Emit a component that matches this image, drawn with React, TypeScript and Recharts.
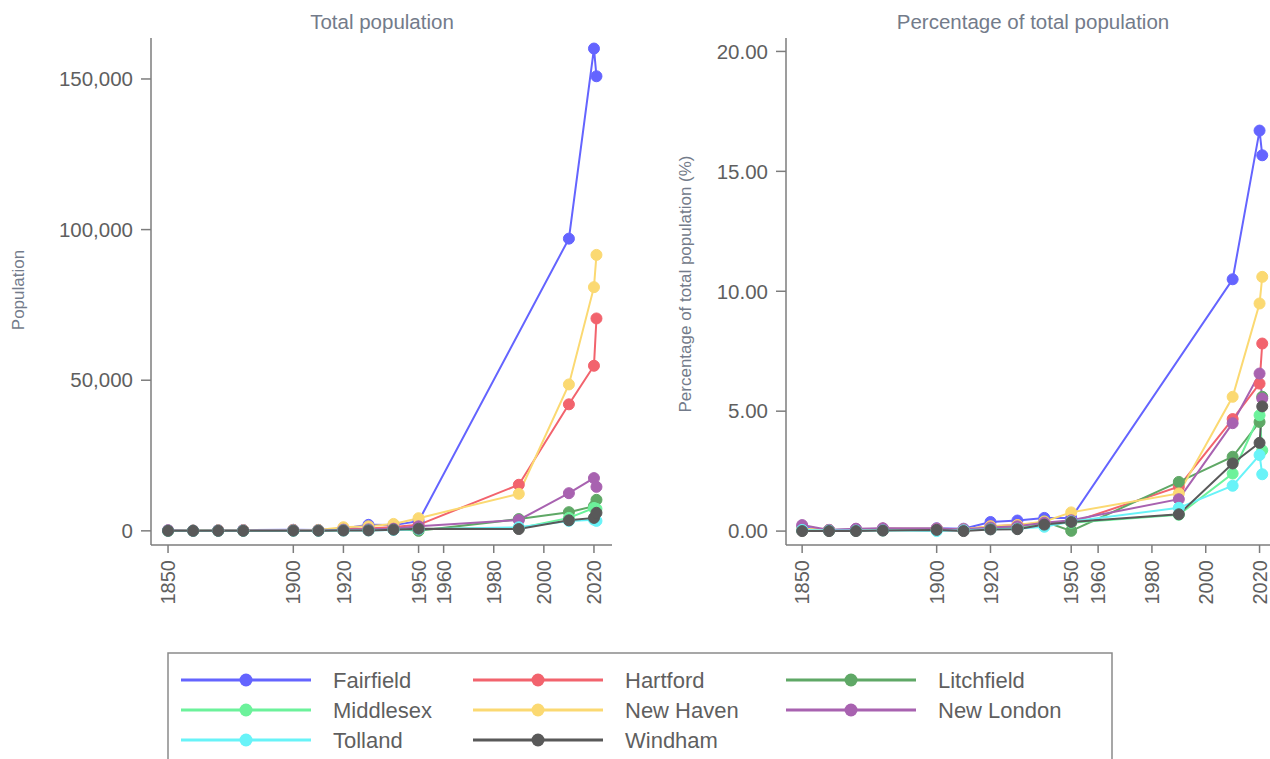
import React from 'react';
import { LineChart, Line, XAxis, YAxis } from 'recharts';

// ---------------------------------------------------------------------------
// Data
// ---------------------------------------------------------------------------
const years = [1850, 1860, 1870, 1880, 1900, 1910, 1920, 1930, 1940, 1950, 1990, 2010, 2020, 2021];

const counties = ['Fairfield', 'Hartford', 'Litchfield', 'Middlesex', 'New Haven', 'New London', 'Tolland', 'Windham'];

const countyColors = ['#6464ff', '#f2636d', '#5fa866', '#6cf29b', '#fbd972', '#a862b0', '#68f3f8', '#595959'];

// Total population per county
const popFairfield = [150, 100, 200, 250, 350, 300, 800, 2000, 1900, 3200, null, 97000, 160100, 150900];
const popHartford = [100, 80, 150, 200, 300, 250, 500, 800, 1300, 2000, 15300, 42000, 54800, 70500];
const popLitchfield = [50, 40, 80, 100, 200, 150, 300, 400, 700, 0, 3900, 6200, 8200, 10300];
const popMiddlesex = [30, 30, 40, 60, 100, 100, 200, 300, 500, 600, 900, 4300, 7600, 7300];
const popNewHaven = [100, 90, 150, 200, 300, 300, 1200, 1500, 2300, 4200, 12300, 48600, 80900, 91600];
const popNewLondon = [200, 50, 100, 150, 200, 150, 400, 500, 700, 1500, 3600, 12500, 17500, 14600];
const popTolland = [20, 20, 30, 40, 50, 50, 100, 150, 300, 500, 1200, 3300, 3700, 3300];
const popWindham = [0, 0, 0, 0, 50, 50, 100, 150, 400, 700, 600, 3500, 4300, 6000];

// Percentage of total population per county
const pctFairfield = [0.15, 0.05, 0.08, 0.1, 0.12, 0.1, 0.38, 0.44, 0.55, 0.55, null, 10.5, 16.7, 15.67];
const pctHartford = [0.1, 0.05, 0.06, 0.1, 0.1, 0.07, 0.2, 0.25, 0.35, 0.35, 1.85, 4.67, 6.15, 7.82];
const pctLitchfield = [0.05, 0.02, 0.04, 0.06, 0.08, 0.06, 0.15, 0.18, 0.4, 0.01, 2.05, 3.1, 4.55, 5.6];
const pctMiddlesex = [0.03, 0.02, 0.02, 0.03, 0.05, 0.05, 0.1, 0.12, 0.3, 0.35, 0.68, 2.4, 4.83, 3.37];
const pctNewHaven = [0.1, 0.05, 0.07, 0.1, 0.1, 0.08, 0.2, 0.25, 0.4, 0.78, 1.57, 5.6, 9.49, 10.6];
const pctNewLondon = [0.25, 0.05, 0.1, 0.12, 0.1, 0.08, 0.15, 0.2, 0.35, 0.45, 1.33, 4.5, 6.57, 5.53];
const pctTolland = [0.05, 0.02, 0.02, 0.03, 0.0, 0.03, 0.08, 0.1, 0.18, 0.4, 0.97, 1.89, 3.17, 2.37];
const pctWindham = [0.0, 0.0, 0.0, 0.02, 0.05, 0.0, 0.07, 0.08, 0.27, 0.38, 0.7, 2.82, 3.68, 5.2];

const yearTicks = [1850, 1900, 1920, 1950, 1960, 1980, 2000, 2020];
const popTicks = [0, 50000, 100000, 150000];
const pctTicks = [0, 5, 10, 15, 20];

const popSeries = [popFairfield, popHartford, popLitchfield, popMiddlesex, popNewHaven, popNewLondon, popTolland, popWindham];
const pctSeries = [pctFairfield, pctHartford, pctLitchfield, pctMiddlesex, pctNewHaven, pctNewLondon, pctTolland, pctWindham];

function buildRows(series: (number | null)[][]) {
  return years.map((year, i) => {
    const row: Record<string, number | null> = { year };
    counties.forEach((c, k) => {
      row[c] = series[k][i];
    });
    return row;
  });
}

const popData = buildRows(popSeries);
const pctData = buildRows(pctSeries);

// ---------------------------------------------------------------------------
// Styling
// ---------------------------------------------------------------------------
const FONT = '"Liberation Sans", Arial, Helvetica, sans-serif';
const AXIS_COLOR = '#7d7d7d';
const TICK_COLOR = '#5f5f5f';
const TITLE_COLOR = '#737b8a';

const YearTick = ({ x, y, payload }: any) => (
  <text
    x={x}
    y={y}
    transform={`rotate(-90 ${x} ${y})`}
    textAnchor="end"
    dy="0.36em"
    fontSize={20}
    fontFamily={FONT}
    fill={TICK_COLOR}
  >
    {payload.value}
  </text>
);

function Panel({
  data,
  left,
  width,
  margin,
  xDomain,
  yDomain,
  yTicks,
  yFormat,
}: {
  data: any[];
  left: number;
  width: number;
  margin: { top: number; right: number; bottom: number; left: number };
  xDomain: [number, number];
  yDomain: [number, number];
  yTicks: number[];
  yFormat: (v: number) => string;
}) {
  return (
    <div style={{ position: 'absolute', left, top: 0 }}>
      <LineChart width={width} height={620} data={data} margin={margin}>
        <XAxis
          dataKey="year"
          type="number"
          domain={xDomain}
          ticks={yearTicks}
          allowDataOverflow
          height={60}
          tickSize={8}
          tickMargin={7}
          stroke={AXIS_COLOR}
          strokeWidth={1.5}
          tick={<YearTick />}
          interval={0}
        />
        <YAxis
          type="number"
          domain={yDomain}
          ticks={yTicks}
          allowDataOverflow
          width={100}
          tickSize={10}
          tickMargin={8}
          stroke={AXIS_COLOR}
          strokeWidth={1.5}
          tickFormatter={yFormat}
          tick={{ fontSize: 20.5, fontFamily: FONT, fill: TICK_COLOR }}
          interval={0}
        />
        {counties.map((c, k) => (
          <Line
            key={c}
            type="linear"
            dataKey={c}
            stroke={countyColors[k]}
            strokeWidth={2}
            dot={{ r: 5.5, fill: countyColors[k], stroke: countyColors[k], strokeWidth: 1 }}
            connectNulls
            isAnimationActive={false}
          />
        ))}
      </LineChart>
    </div>
  );
}

const legendCols = [181, 473, 786];

function Overlay() {
  return (
    <svg
      width={1270}
      height={759}
      style={{ position: 'absolute', left: 0, top: 0, pointerEvents: 'none' }}
      fontFamily={FONT}
    >
      <text x={382} y={22} dy="0.35em" textAnchor="middle" fontSize={20.5} fill={TITLE_COLOR}>
        Total population
      </text>
      <text x={1033} y={22} dy="0.35em" textAnchor="middle" fontSize={20.5} fill={TITLE_COLOR}>
        Percentage of total population
      </text>
      <text
        x={18}
        y={290}
        transform="rotate(-90 18 290)"
        textAnchor="middle"
        dy="0.35em"
        fontSize={17}
        fill={TITLE_COLOR}
      >
        Population
      </text>
      <text
        x={685}
        y={284}
        transform="rotate(-90 685 284)"
        textAnchor="middle"
        dy="0.35em"
        fontSize={17}
        fill={TITLE_COLOR}
      >
        Percentage of total population (%)
      </text>

      {/* Legend */}
      <rect x={168} y={653} width={944} height={130} fill="#fff" stroke="#8a8a8a" strokeWidth={1.5} />
      {counties.map((c, k) => {
        const x0 = legendCols[k % 3];
        const y0 = 680 + Math.floor(k / 3) * 30;
        return (
          <g key={c}>
            <line x1={x0} y1={y0} x2={x0 + 130} y2={y0} stroke={countyColors[k]} strokeWidth={3} />
            <circle cx={x0 + 65} cy={y0} r={6.5} fill={countyColors[k]} />
            <text x={x0 + 152} y={y0} dy="0.35em" fontSize={22} fill={TICK_COLOR}>
              {c}
            </text>
          </g>
        );
      })}
    </svg>
  );
}

export default function App() {
  return (
    <div
      style={{
        position: 'absolute',
        left: 0,
        top: 0,
        width: 1270,
        height: 759,
        overflow: 'hidden',
        background: '#fff',
      }}
    >
      <Panel
        data={popData}
        left={0}
        width={640}
        margin={{ top: 38, right: 28, bottom: 15, left: 51 }}
        xDomain={[1843.2, 2027.2]}
        yDomain={[-4700, 163600]}
        yTicks={popTicks}
        yFormat={(v) => v.toLocaleString('en-US')}
      />
      <Panel
        data={pctData}
        left={640}
        width={660}
        margin={{ top: 38, right: 20, bottom: 15, left: 46 }}
        xDomain={[1844, 2027.6]}
        yDomain={[-0.58, 20.56]}
        yTicks={pctTicks}
        yFormat={(v) => v.toFixed(2)}
      />
      <Overlay />
    </div>
  );
}
